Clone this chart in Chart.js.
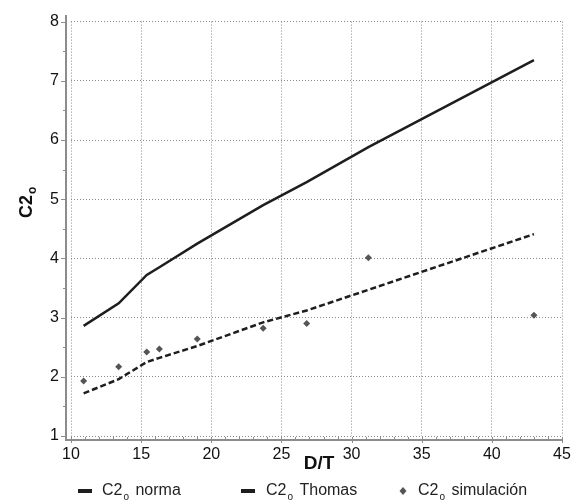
<!DOCTYPE html>
<html>
<head>
<meta charset="utf-8">
<script src="https://cdn.jsdelivr.net/npm/chart.js@4"></script>
<style>
  body { margin: 0; background: #fff; }
  canvas { display: block; }
</style>
</head>
<body>
<canvas id="chart" width="581" height="504"></canvas>
<script>
// D/T values and C2o series
const dt = [10.9, 13.4, 15.4, 16.3, 19, 23.7, 26.8, 31.2, 43];
const norma = [2.86, 3.24, 3.72, 3.85, 4.25, 4.9, 5.29, 5.88, 7.35];
const thomas = [1.72, 1.96, 2.25, 2.32, 2.52, 2.92, 3.12, 3.47, 4.41];
const simulacion = [1.93, 2.17, 2.42, 2.47, 2.64, 2.82, 2.9, 4.01, 3.04];
const seriesNames = ["norma", "Thomas", "simulación"];
const xTicks = [10, 15, 20, 25, 30, 35, 40, 45];
const yTicks = [1, 2, 3, 4, 5, 6, 7, 8];

const FONT = "'Liberation Sans', Arial, sans-serif";
const pts = (vals) => dt.map((x, i) => ({ x: x, y: vals[i] }));

// axis lines + minor ticks, drawn a few px off the plot area like the original
const axesPlugin = {
  id: "axes",
  afterDraw(chart) {
    const ctx = chart.ctx;
    const xs = chart.scales.x, ys = chart.scales.y;
    const ax = 66, ay = 440;
    ctx.save();
    ctx.strokeStyle = "#8c8c8c";
    ctx.lineWidth = 2;
    ctx.beginPath();
    ctx.moveTo(ax, 15);
    ctx.lineTo(ax, ay + 1);
    ctx.moveTo(ax - 1, ay);
    ctx.lineTo(chart.chartArea.right + 1, ay);
    ctx.stroke();
    ctx.lineWidth = 1;
    ctx.beginPath();
    for (let v = 1; v <= 8; v += 0.5) {
      const y = Math.round(ys.getPixelForValue(v)) + 0.5;
      ctx.moveTo(ax - (Number.isInteger(v) ? 5 : 3), y);
      ctx.lineTo(ax, y);
    }
    for (let v = 10; v <= 45; v++) {
      const x = Math.round(xs.getPixelForValue(v)) + 0.5;
      ctx.moveTo(x, ay - 3);
      ctx.lineTo(x, ay + (v % 5 === 0 ? 3 : 1));
    }
    ctx.stroke();

    // axis titles
    ctx.fillStyle = "#111";
    ctx.font = "bold 19px " + FONT;
    ctx.textAlign = "center";
    ctx.textBaseline = "middle";
    ctx.fillText("D/T", 319, 464);

    ctx.translate(32, 218);
    ctx.rotate(-Math.PI / 2);
    ctx.textAlign = "left";
    ctx.textBaseline = "alphabetic";
    ctx.font = "bold 18px " + FONT;
    ctx.fillText("C2", 0, 0);
    const w = ctx.measureText("C2").width;
    ctx.font = "bold 12px " + FONT;
    ctx.fillText("o", w + 1, 4);
    ctx.restore();
  }
};

// legend with subscript o
const legendPlugin = {
  id: "subLegend",
  afterDraw(chart) {
    const ctx = chart.ctx;
    const y = 491;
    const items = [
      { mark: 78, text: 102 },
      { mark: 241, text: 266 },
      { mark: 403, text: 418 }
    ];
    ctx.save();
    items.forEach((it, i) => {
      const ds = chart.data.datasets[i];
      if (ds.showLine) {
        ctx.fillStyle = ds.borderColor;
        ctx.fillRect(it.mark, y - 2, 14, 4);
      } else {
        ctx.fillStyle = ds.pointBackgroundColor;
        ctx.beginPath();
        ctx.moveTo(it.mark, y - 4);
        ctx.lineTo(it.mark + 3.5, y);
        ctx.lineTo(it.mark, y + 4);
        ctx.lineTo(it.mark - 3.5, y);
        ctx.closePath();
        ctx.fill();
      }
      ctx.fillStyle = "#222";
      ctx.textBaseline = "middle";
      ctx.textAlign = "left";
      ctx.font = "16px " + FONT;
      ctx.fillText("C2", it.text, y);
      const w = ctx.measureText("C2").width;
      ctx.font = "10px " + FONT;
      ctx.fillText("o", it.text + w + 1, y + 6);
      ctx.font = "16px " + FONT;
      ctx.fillText(seriesNames[i], it.text + w + 13, y);
    });
    ctx.restore();
  }
};

new Chart(document.getElementById("chart"), {
  type: "scatter",
  data: {
    datasets: [
      {
        label: "C2o norma",
        data: pts(norma),
        showLine: true,
        borderColor: "#1e1e1e",
        borderWidth: 2.5,
        pointRadius: 0,
        tension: 0
      },
      {
        label: "C2o Thomas",
        data: pts(thomas),
        showLine: true,
        borderColor: "#1e1e1e",
        borderWidth: 2.5,
        borderDash: [6, 3],
        pointRadius: 0,
        tension: 0
      },
      {
        label: "C2o simulación",
        data: pts(simulacion),
        showLine: false,
        pointStyle: "rectRot",
        pointRadius: 3.5,
        pointBackgroundColor: "#555",
        pointBorderColor: "#555",
        pointBorderWidth: 0
      }
    ]
  },
  options: {
    responsive: false,
    animation: false,
    devicePixelRatio: 1,
    layout: { padding: { left: 0, right: 19, top: 18, bottom: 0 } },
    plugins: {
      legend: { display: false },
      tooltip: { enabled: false }
    },
    scales: {
      x: {
        type: "linear",
        min: 10,
        max: 45,
        afterFit: (s) => { s.height = 68; },
        afterBuildTicks: (s) => { s.ticks = xTicks.map((v) => ({ value: v })); },
        grid: { color: "#8a8a8a", lineWidth: 1, drawTicks: false },
        border: { display: false, dash: [1, 2] },
        ticks: { padding: 9, color: "#111", font: { family: FONT, size: 16 } }
      },
      y: {
        type: "linear",
        min: 1,
        max: 8,
        afterFit: (s) => { s.width = 71; },
        afterBuildTicks: (s) => { s.ticks = yTicks.map((v) => ({ value: v })); },
        grid: { color: "#8a8a8a", lineWidth: 1, drawTicks: false },
        border: { display: false, dash: [1, 2] },
        ticks: { padding: 12, color: "#111", font: { family: FONT, size: 16 } }
      }
    }
  },
  plugins: [axesPlugin, legendPlugin]
});
</script>
</body>
</html>
